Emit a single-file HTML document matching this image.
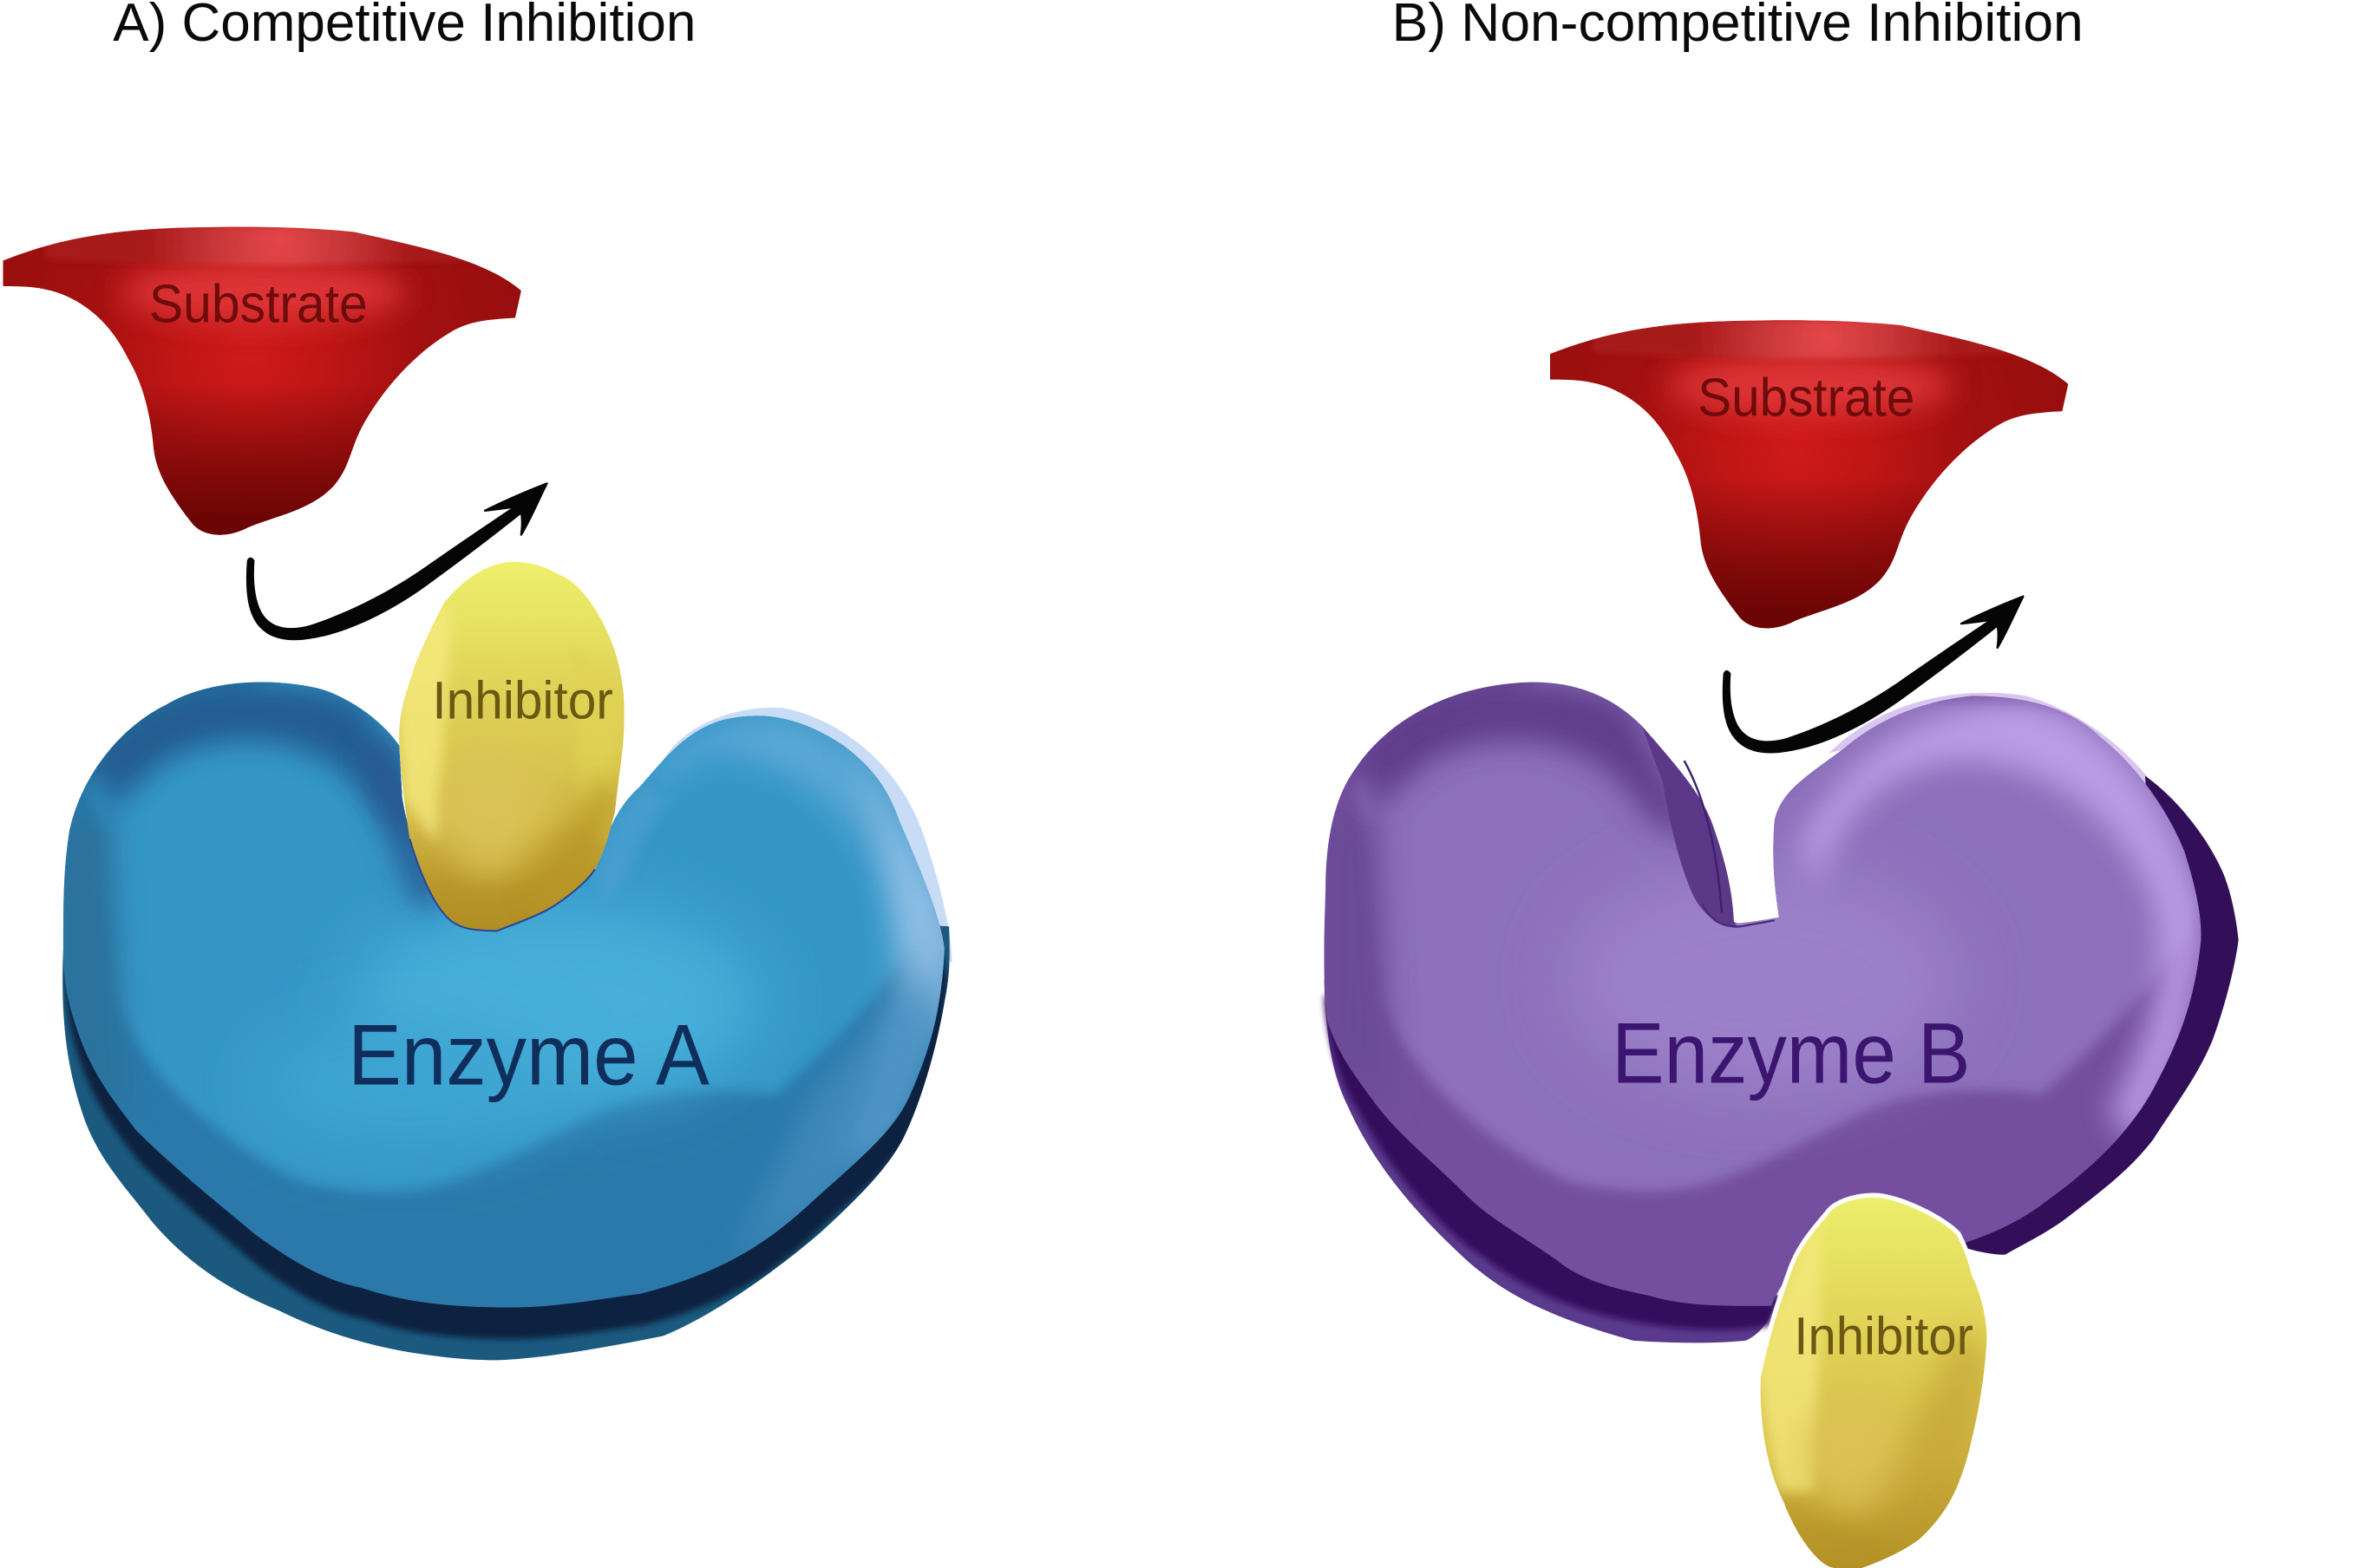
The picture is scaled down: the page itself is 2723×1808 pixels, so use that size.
<!DOCTYPE html>
<html><head><meta charset="utf-8"><title>Competitive and Non-competitive Inhibition</title>
<style>html,body{margin:0;padding:0;background:#fff}svg{display:block}
text{font-family:"Liberation Sans",sans-serif}</style></head>
<body>
<svg xmlns="http://www.w3.org/2000/svg" width="2723" height="1808" viewBox="0 0 1568 1041" preserveAspectRatio="none">
<defs>
<filter id="b2" x="-50%" y="-50%" width="200%" height="200%"><feGaussianBlur stdDeviation="2"/></filter>
<filter id="b4" x="-50%" y="-50%" width="200%" height="200%"><feGaussianBlur stdDeviation="4"/></filter>
<filter id="b10" x="-60%" y="-60%" width="220%" height="220%"><feGaussianBlur stdDeviation="10"/></filter>
<filter id="b22" x="-60%" y="-60%" width="220%" height="220%"><feGaussianBlur stdDeviation="22"/></filter>
<path id="subP" d="M2 173 C35 160 70 152 130 151 C170 150 205 151 235 154 C275 163 322 172 346 193 L342 211 C325 212 312 213 300 220 C276 234 254 258 240 284 C232 300 232 310 222 322 C208 338 185 342 165 350 C150 358 135 356 128 348 C114 330 104 315 102 298 C100 275 95 255 85 238 C75 218 62 205 45 197 C30 190 15 190 2 190 Z"/>
<clipPath id="subC"><use href="#subP"/></clipPath>
<radialGradient id="subG" gradientUnits="userSpaceOnUse" cx="165" cy="235" r="190">
<stop offset="0" stop-color="#cf1a1a"/><stop offset=".3" stop-color="#bd1515"/><stop offset=".6" stop-color="#a21010"/><stop offset="1" stop-color="#970e0e"/></radialGradient>
<linearGradient id="subB" gradientUnits="userSpaceOnUse" x1="0" y1="255" x2="0" y2="345">
<stop offset="0" stop-color="#6c0505" stop-opacity="0"/><stop offset="1" stop-color="#6c0505"/></linearGradient>
<radialGradient id="subH" gradientUnits="userSpaceOnUse" cx="185" cy="160" r="90">
<stop offset="0" stop-color="#ea4c50"/><stop offset=".5" stop-color="#c83a3c"/><stop offset="1" stop-color="#a81a1a"/></radialGradient>
<g id="substrate">
<g clip-path="url(#subC)">
<rect x="0" y="140" width="360" height="230" fill="url(#subG)"/>
<rect x="0" y="250" width="360" height="120" fill="url(#subB)"/>
<ellipse cx="175" cy="194" rx="95" ry="20" fill="#e23a3c" opacity=".85" filter="url(#b10)"/>
<path d="M30 150 H330 V172 Q170 180 30 172Z" fill="url(#subH)" opacity=".9" filter="url(#b2)"/>
</g></g>

<g id="arrow">
<path d="M169 372 C168 385 169 398 174 407 C180 417 192 419 206 415 C230 407 255 395 280 378 C300 364 325 347 346 333 L350 338 C325 358 305 373 283 389 C258 407 232 419 212 423 C190 428 175 424 168 410 C163 400 163 385 164 372 Q166 368 169 372Z" fill="#050505"/>
<path d="M363 321 C345 328 332 334 322 339 C332 338 338 337 345 336 C347 342 347 348 346 355 C352 345 357 333 363 321Z" fill="#050505" stroke="#050505" stroke-width="1.4" stroke-linejoin="round"/>
</g>

<path id="inhA" d="M340 373 C320 374 305 388 295 400 C287 415 280 430 275 443 C270 460 265 470 265 490 C265 505 268 530 272 557 C278 578 287 598 295 607 C303 617 315 618 330 618 C345 612 360 607 370 600 C380 593 390 585 395 577 C403 562 405 550 408 540 L411 515 C414 495 415 480 414 462 C412 440 407 427 400 413 C392 398 382 385 370 381 C360 375 350 373 340 373Z"/>
<clipPath id="inhAC"><use href="#inhA"/></clipPath>
<linearGradient id="inhGA" gradientUnits="userSpaceOnUse" x1="340" y1="373" x2="340" y2="618">
<stop offset="0" stop-color="#eef06c"/><stop offset=".35" stop-color="#dfd257"/><stop offset=".7" stop-color="#d4bb4a"/><stop offset=".88" stop-color="#b89629"/><stop offset="1" stop-color="#b08e24"/></linearGradient>

<path id="inhB" d="M1244 795 C1230 795 1218 800 1214 806 C1202 820 1194 830 1189 845 C1180 870 1174 890 1169 914 C1168 930 1170 945 1171 954 C1174 972 1178 985 1184 997 C1192 1018 1204 1035 1214 1040 C1222 1043 1230 1042 1236 1041 C1250 1036 1263 1030 1274 1022 C1285 1012 1294 1000 1300 985 C1304 975 1307 965 1309 955 C1314 935 1318 910 1319 887 C1318 870 1314 857 1309 847 C1306 835 1303 828 1299 820 C1290 810 1260 795 1244 795Z"/>
<clipPath id="inhBC"><use href="#inhB"/></clipPath>
<linearGradient id="inhGB" gradientUnits="userSpaceOnUse" x1="1244" y1="795" x2="1244" y2="1042">
<stop offset="0" stop-color="#ecee6c"/><stop offset=".3" stop-color="#e2d65a"/><stop offset=".7" stop-color="#d7be49"/><stop offset=".88" stop-color="#bb9a2c"/><stop offset="1" stop-color="#b39126"/></linearGradient>

<path id="enzA" d="M330 618 C350 612 375 602 395 578 C402 560 405 540 425 522 C440 505 455 485 480 478 C505 472 530 475 560 495 C580 510 590 525 597 545 C610 575 625 610 627 630 C625 670 618 695 605 725 C595 750 570 770 540 797 C510 825 480 845 425 859 C400 862 370 868 340 868 C300 868 270 865 240 855 C215 850 195 838 170 820 C140 795 115 775 90 750 C75 730 60 712 50 680 C45 665 42 650 42 630 C42 600 42 578 46 552 C55 510 85 480 110 468 C140 450 185 450 215 458 C235 465 255 480 265 495 L267 530 C272 560 285 590 300 607 C310 618 320 618 330 618 Z"/>
<clipPath id="enzAC"><use href="#enzA"/></clipPath>
<path id="enzAO" d="M42 630 C40 680 45 710 55 740 C65 770 85 790 100 810 C125 840 155 858 185 870 C215 885 250 895 280 899 C300 902 315 903 330 903 C360 902 400 895 440 887 C470 875 510 848 545 818 C570 795 590 775 600 755 C612 730 622 695 627 665 C630 650 631 640 630 615 L330 600 Z"/>
<clipPath id="enzAOC"><use href="#enzAO"/></clipPath>

<path id="enzB" d="M1154 613 C1165 612 1175 610 1181 609 C1178 590 1176 570 1178 545 C1182 525 1200 515 1224 497 C1250 475 1280 465 1309 462 C1345 462 1375 470 1395 490 C1420 510 1440 540 1450 565 C1458 590 1462 610 1461 625 C1457 665 1446 692 1430 722 C1415 750 1390 775 1359 797 C1340 812 1320 820 1299 827 L1299 819 C1290 810 1260 795 1244 795 C1225 795 1210 805 1200 825 C1190 845 1180 855 1176 867 C1150 867 1120 868 1094 860 C1070 855 1050 850 1034 837 C1010 820 990 810 974 794 C950 770 930 755 914 734 C900 715 888 700 881 677 C878 650 879 620 880 590 C880 560 885 530 900 510 C920 480 960 455 1014 453 C1045 452 1070 462 1090 482 C1110 505 1128 525 1136 545 C1145 570 1150 590 1151 612 Z"/>
<clipPath id="enzBC"><use href="#enzB"/></clipPath>
</defs>

<rect width="1568" height="1041" fill="#fff"/>

<!-- Titles -->
<text x="75" y="27" font-size="36" fill="#0a0a0a" textLength="387" lengthAdjust="spacingAndGlyphs">A) Competitive Inhibition</text>
<text x="924" y="27" font-size="36" fill="#0a0a0a" textLength="459" lengthAdjust="spacingAndGlyphs">B) Non-competitive Inhibition</text>

<!-- Substrates -->
<use href="#substrate"/>
<use href="#substrate" transform="translate(1027 62)"/>
<text x="99" y="214" font-size="36" fill="#6e0b0b" textLength="145" lengthAdjust="spacingAndGlyphs">Substrate</text>
<text x="1127" y="276" font-size="36" fill="#6e0b0b" textLength="144" lengthAdjust="spacingAndGlyphs">Substrate</text>

<!-- Arrows -->
<use href="#arrow"/>
<use href="#arrow" transform="translate(980 75)"/>

<!-- Enzyme A -->
<path d="M440 505 C455 480 490 468 520 470 C560 478 600 510 615 560 C625 590 632 620 632 640 L600 600 Z" fill="#c9dcf6"/>
<use href="#enzAO" fill="#1b5a7e"/>
<g clip-path="url(#enzAOC)"><use href="#enzA" fill="#0e2341" transform="translate(2 21)" filter="url(#b2)"/></g>
<use href="#enzA" fill="#2a79aa"/>
<g clip-path="url(#enzAC)">
<path d="M60 520 L75 660 C90 700 125 747 200 784 C230 792 270 794 300 784 C340 770 380 745 400 737 C430 722 490 722 515 727 C545 700 600 650 620 600 L600 480 L200 440 Z" fill="#3597c8" filter="url(#b4)"/>
<ellipse cx="370" cy="665" rx="135" ry="65" fill="#46afd9" filter="url(#b22)"/>
<ellipse cx="270" cy="720" rx="100" ry="40" fill="#3ca5d2" filter="url(#b22)"/>
<path d="M36 540 L36 720 L85 740 L75 540Z" fill="#2a729e" filter="url(#b10)"/>
<path d="M60 500 C90 455 170 440 240 465 L295 560 L255 545 C225 490 160 480 110 505 L70 540Z" fill="#245c90" filter="url(#b10)"/>
<path d="M260 490 L296 600 L275 600 L240 500Z" fill="#27598f" filter="url(#b10)"/>
<path d="M420 530 C445 490 490 470 530 478 C575 495 600 540 625 620 L615 700 L590 760 L555 770 C585 720 600 660 590 600 C575 545 525 500 470 500 Z" fill="#6fb0dc" opacity=".65" filter="url(#b10)"/>
<path d="M560 480 L640 620 L625 700 L600 640 L585 550Z" fill="#9cc5ea" opacity=".8" filter="url(#b10)"/>
<path d="M535 733 C560 700 590 670 615 640 L625 680 L600 745 L550 800 L485 840 C500 810 520 770 535 733Z" fill="#4e93c4" opacity=".6" filter="url(#b10)"/>
<path d="M395 578 C402 560 405 540 425 522 L445 530 C420 560 420 590 400 600Z" fill="#4e9fd0" opacity=".7" filter="url(#b4)"/>
</g>
<use href="#inhA" fill="url(#inhGA)"/>
<g clip-path="url(#inhAC)">
<path d="M262 430 L300 400 L290 560 L268 530Z" fill="#f5e97f" opacity=".8" filter="url(#b4)"/>
<ellipse cx="325" cy="540" rx="30" ry="42" fill="#dcc45a" opacity=".75" filter="url(#b10)"/>
<path d="M380 430 L416 460 L405 560 L385 550Z" fill="#dfd255" opacity=".8" filter="url(#b4)"/>
<path d="M395 520 L415 520 L395 590 L370 610 L350 590Z" fill="#b79626" opacity=".9" filter="url(#b10)"/>
</g>
<path d="M272 557 C278 578 287 598 295 607 C303 617 315 618 330 618 C345 612 360 607 370 600 C380 593 390 585 395 577" fill="none" stroke="#27489a" stroke-width="1.2"/>
<text x="287" y="477" font-size="35" fill="#6b5812" textLength="120" lengthAdjust="spacingAndGlyphs">Inhibitor</text>
<text x="231" y="720" font-size="57" fill="#0f2e5b" textLength="240" lengthAdjust="spacingAndGlyphs">Enzyme A</text>

<!-- Enzyme B -->
<path d="M1214 500 C1250 465 1300 455 1345 462 C1390 475 1430 510 1450 555 L1400 520 L1260 490Z" fill="#d9c6ef"/>
<path d="M879 650 C880 690 885 715 895 735 C915 780 950 815 974 837 C1000 860 1030 875 1084 890 C1110 892 1140 892 1159 890 C1170 885 1176 875 1180 860 L1100 840 L900 680 Z" fill="#5a3a8c"/>
<path d="M879 660 C880 690 890 720 900 735 C925 780 955 815 985 835 C1020 862 1060 875 1100 880 C1130 884 1155 884 1175 880 L1180 860 L1100 840 L900 680 Z" fill="#36115e" filter="url(#b2)"/>
<path d="M1299 827 C1310 830 1320 833 1331 833 C1345 825 1360 818 1374 807 C1400 787 1415 775 1429 757 C1448 728 1460 712 1469 690 C1478 665 1484 640 1486 624 C1484 605 1480 590 1476 580 C1465 555 1445 530 1424 515 L1430 600 L1440 700 Z" fill="#330f59"/>
<use href="#enzB" fill="#744f9f"/>
<g clip-path="url(#enzBC)">
<path d="M900 520 L915 660 C930 700 965 747 1040 784 C1070 792 1110 794 1140 784 C1180 770 1220 745 1240 737 C1270 722 1330 722 1355 727 C1385 700 1440 650 1460 600 L1440 480 L1040 440 Z" fill="#8c70bb" filter="url(#b4)"/>
<ellipse cx="1170" cy="650" rx="130" ry="75" fill="#9b81c9" filter="url(#b22)"/>
<path d="M876 540 L876 700 L925 740 L915 540Z" fill="#6a4c98" filter="url(#b10)"/>
<path d="M900 500 C930 450 1010 440 1080 465 L1130 560 L1095 545 C1065 490 1000 480 950 505 L910 540Z" fill="#5f3e8b" filter="url(#b10)"/>
<path d="M1195 560 C1230 490 1290 465 1350 465 C1410 485 1450 550 1465 620 L1450 700 L1420 760 L1400 740 C1425 690 1440 650 1430 600 C1410 545 1365 510 1310 505 C1260 505 1225 530 1205 590Z" fill="#bfa1e8" opacity=".9" filter="url(#b10)"/>
<path d="M1090 482 C1110 505 1128 525 1136 545 C1145 570 1150 590 1151 612 L1154 616 C1140 616 1128 605 1122 590 C1114 570 1108 545 1104 520 Z" fill="#5c3889"/>
</g>
<path d="M1118 505 C1132 530 1140 565 1143 606" fill="none" stroke="#3f1f6f" stroke-width="1.4"/>
<path d="M1130 600 C1136 612 1144 616 1156 615 L1178 611" fill="none" stroke="#4b2a7c" stroke-width="1.3"/>
<use href="#inhB" fill="#fff" stroke="#fff" stroke-width="6"/>
<use href="#inhB" fill="url(#inhGB)"/>
<g clip-path="url(#inhBC)">
<path d="M1165 900 L1210 800 L1205 990 L1180 990Z" fill="#f4e97e" opacity=".75" filter="url(#b4)"/>
<ellipse cx="1235" cy="965" rx="38" ry="40" fill="#dcc255" opacity=".8" filter="url(#b10)"/>
<path d="M1300 880 L1322 900 L1310 990 L1280 1030 L1240 1010Z" fill="#bf9e30" opacity=".6" filter="url(#b10)"/>
</g>
<text x="1191" y="899" font-size="35" fill="#6b5812" textLength="119" lengthAdjust="spacingAndGlyphs">Inhibitor</text>
<text x="1070" y="719" font-size="57" fill="#3b1570" textLength="238" lengthAdjust="spacingAndGlyphs">Enzyme B</text>
</svg>
</body></html>
